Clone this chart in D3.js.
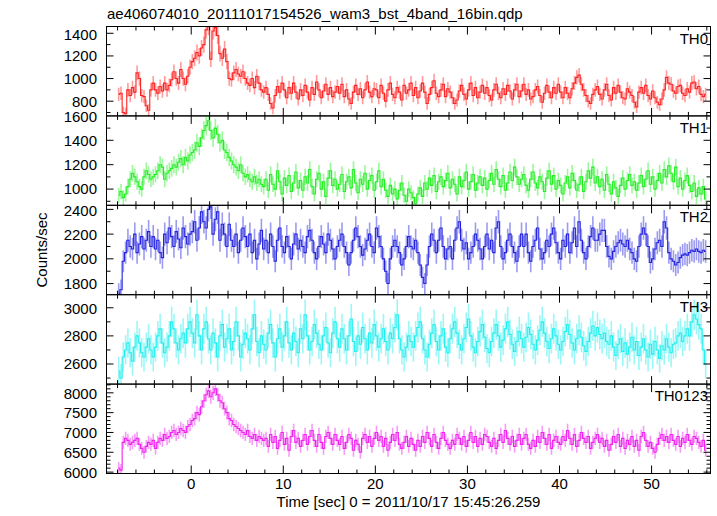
<!DOCTYPE html>
<html><head><meta charset="utf-8">
<script src="https://cdn.jsdelivr.net/npm/d3@7"></script>
<style>
body{margin:0;background:#fff;}
text{font-family:"Liberation Sans",Arial,Helvetica,sans-serif;}
</style></head>
<body><svg id="c" width="717" height="516"></svg>
<script>
// ---- data ----
const title = "ae406074010_20111017154526_wam3_bst_4band_16bin.qdp";
const xLabel = "Time [sec] 0 = 2011/10/17 15:45:26.259";
const yLabel = "Counts/sec";
const panelNames = ["TH0","TH1","TH2","TH3","TH0123"];
const panelColors = ["#ff2020","#22ee22","#2222e0","#22eeee","#f022f0"];
const tStart = -8, binWidth = 0.25;
const xDomain = [-9.2, 56.4];
const xTickValues = [0,10,20,30,40,50];

// 0.25 s bins, 16 per row (4 s)
const TH0 = [
 860,870,700,690, 900,850,920,880, 1050,1000,850,840, 760,720,900,960,
 900,870,930,890, 960,900,940,990, 1060,1000,960,1080, 1000,950,1020,1100,
 1150,1180,1230,1200, 1270,1300,1430,1460, 1170,1420,1450,1380, 1220,1180,1260,1150,
 1000,990,1050,1080, 1040,1020,1060,1000, 960,940,1000,920, 1020,960,900,880,
 920,860,780,740, 850,930,880,960, 900,830,920,870, 960,880,820,900,
 850,940,880,810, 920,860,970,900, 830,890,950,860, 920,840,880,930,
 870,950,840,900, 820,780,880,940, 860,910,830,900, 970,880,840,910,
 900,830,940,870, 800,900,960,860, 830,920,880,810, 940,870,900,960,
 850,920,830,890, 960,880,780,860, 920,980,870,840, 900,950,840,910,
 880,830,780,810, 890,940,860,820, 900,960,850,920, 830,880,940,870,
 920,850,810,900, 950,870,830,910, 860,940,890,820, 900,950,840,890,
 950,860,900,820, 840,900,930,850, 790,870,940,880, 830,920,870,950,
 880,830,920,870, 830,910,960,1010, 1030,950,900,850, 800,780,860,900,
 930,860,820,900, 950,850,810,920, 870,940,880,830, 820,910,880,850,
 790,750,880,920, 870,940,850,820, 890,830,790,770, 820,900,1010,960,
 950,890,870,930, 940,870,850,910, 880,960,970,910, 930,860,840,860];
const TH1 = [
 950,980,930,960, 1020,1080,1130,1100, 1060,1020,1000,1100, 1150,1120,1080,1100,
 1120,1150,1200,1180, 1080,1130,1150,1170, 1200,1180,1220,1250, 1200,1260,1230,1280,
 1300,1320,1380,1350, 1420,1480,1520,1560, 1480,1420,1500,1450, 1380,1400,1320,1300,
 1260,1230,1200,1180, 1150,1200,1130,1100, 1120,1080,1060,1100, 1050,1080,1040,1020,
 1080,990,1120,1040, 1000,1150,1060,960, 1090,1030,1110,980, 1050,1140,1010,1070,
 990,1100,1050,1160, 1020,960,1080,1130, 1000,1060,940,1090, 1150,1030,1080,1000,
 1040,1120,980,1060, 1100,1010,1160,1050, 970,1080,1040,1130, 1000,1070,1110,990,
 1060,1150,1020,1080, 990,940,1030,960, 1000,920,990,1050, 950,900,1000,970,
 930,880,960,1010, 940,1050,1000,1090, 1030,1110,980,1060, 1100,1020,1070,1130,
 1010,1080,1040,960, 1100,1020,1070,1140, 1000,1060,1120,990, 1050,1100,1030,1090,
 1000,1070,1130,1040, 1160,1080,1020,1110, 990,1050,1140,1070, 1180,1100,1040,1080,
 1120,1030,990,1080, 1140,1050,1010,1100, 1060,980,1090,1150, 1040,1110,1000,1070,
 1030,960,1050,1100, 1010,1130,1070,990, 1040,1100,980,1060, 1150,1090,1180,1050,
 1100,1020,1080,990, 1120,1040,960,1060, 1010,940,1030,1090, 1000,1070,1120,1030,
 1060,990,1050,1110, 1020,1080,1150,1040, 1100,1000,1070,1130, 1050,1160,1100,1190,
 1130,1060,1180,1020, 1090,1000,1070,1110, 1030,980,1050,940, 1010,960,1020,920];
const TH2 = [
 1720,1750,1980,2050, 2150,2100,2080,2200, 2050,2120,2180,2080, 2150,2220,2100,2180,
 2080,2150,2050,2010, 2200,2130,2250,2180, 2100,2220,2160,2090, 2250,2180,2120,2200,
 2220,2300,2150,2250, 2380,2300,2250,2400, 2420,2200,2320,2380, 2150,2280,2200,2100,
 2280,2150,2100,2200, 2050,2150,2250,2180, 2100,2200,2050,2150, 2000,2120,2230,2080,
 2150,2050,2200,2100, 1980,2150,2250,2100, 2050,2180,2100,2000, 2120,2200,2080,2150,
 2100,2050,2180,2230, 2150,2050,2000,2100, 2180,2120,2050,2200, 2150,2080,2000,2100,
 2150,2200,2100,2050, 1950,2050,2150,2250, 2180,2100,2030,2080, 2150,2200,2100,2050,
 2250,2180,2100,2000, 1900,1800,2000,2100, 2150,2100,2050,1950, 2000,2100,2180,2100,
 2080,2150,2050,1950, 1850,1800,1950,2100, 2200,2150,2050,2150, 2250,2100,2000,2080,
 2100,2000,2150,2250, 2300,2150,2080,2130, 2000,2050,2100,2200, 2150,2080,2000,2100,
 2200,2080,2150,2050, 2250,2300,2100,2000, 2050,2150,2200,2100, 2050,1980,2100,2200,
 2100,2200,2050,1980, 2100,2150,2250,2080, 2000,2050,2150,2100, 2200,2250,2130,2050,
 2000,2150,2100,2200, 2050,2130,2250,2100, 2300,2150,2050,2000, 2100,2180,2250,2150,
 2150,2200,2230,2230, 2100,2020,2000,2060, 2100,2130,2150,2120, 2100,2150,2080,2050,
 2000,1980,2100,2200, 2250,2200,2100,1970, 2000,2080,2130,2150, 2100,2300,2250,2050,
 2000,1980,1950,1970, 2010,2030,2040,2030, 2050,2070,2060,2080, 2060,2050,2070,2060];
const TH3 = [
 2550,2500,2650,2700, 2750,2680,2620,2720, 2800,2750,2680,2650, 2720,2780,2700,2650,
 2720,2800,2850,2750, 2680,2720,2800,2900, 2850,2750,2700,2780, 2820,2750,2850,2900,
 2820,2750,2950,2800, 2700,2850,2900,2780, 2700,2820,2750,2650, 2800,2880,2720,2780,
 2850,2700,2760,2900, 2800,2650,2740,2820, 2780,2700,2850,2950, 2760,2680,2800,2740,
 2700,2820,2880,2750, 2650,2780,2850,2720, 2800,2900,2750,2700, 2820,2760,2680,2850,
 2780,2950,2800,2700, 2760,2880,2820,2740, 2700,2800,2860,2750, 2680,2820,2900,2780,
 2720,2850,2780,2700, 2800,2920,2760,2690, 2800,2740,2860,2780, 2700,2820,2750,2880,
 2800,2720,2780,2850, 2760,2700,2820,2780, 2860,2950,2780,2700, 2650,2720,2800,2760,
 2720,2800,2860,2900, 2780,2700,2650,2740, 2820,2880,2760,2700, 2800,2850,2720,2680,
 2780,2850,2900,2820, 2740,2700,2780,2860, 2920,2800,2720,2680, 2760,2830,2880,2790,
 2710,2680,2760,2820, 2880,2800,2720,2770, 2850,2900,2810,2740, 2690,2760,2830,2780,
 2720,2790,2860,2810, 2740,2700,2770,2840, 2900,2820,2760,2710, 2780,2850,2800,2740,
 2700,2760,2830,2880, 2810,2750,2700,2780, 2840,2790,2730,2690, 2760,2820,2870,2800,
 2860,2810,2780,2820, 2760,2740,2800,2720, 2660,2740,2780,2690, 2750,2670,2720,2790,
 2700,2760,2660,2720, 2780,2700,2650,2740, 2670,2760,2700,2640, 2730,2700,2780,2720,
 2680,2740,2750,2800, 2820,2760,2800,2850, 2800,2900,2950,2920, 2880,2850,2700,2600];
const TH0123 = [
 6100,6050,6750,6850, 6800,6700,6750,6800, 6850,6700,6600,6500, 6650,6750,6700,6800,
 6600,6750,6850,6800, 6950,6850,6900,7000, 7050,6950,7000,7100, 7050,7000,7150,7200,
 7300,7350,7500,7450, 7650,7800,7950,8050, 7900,8000,8100,7950, 7800,7750,7600,7500,
 7350,7300,7200,7150, 7100,7050,7000,6950, 7050,6900,6850,6950, 6800,6900,6850,6800,
 6850,6650,6950,6750, 6900,6600,6800,7000, 6700,6850,6550,6900, 7050,6750,6850,6650,
 6800,6950,6700,6900, 7050,6800,6650,6950, 6750,6600,6900,7000, 6850,6700,6950,6800,
 6700,6900,6600,6750, 6950,6850,6550,6800, 6700,6500,6850,6950, 6750,6900,6650,6850,
 7000,6800,6900,6650, 6850,6550,6750,6950, 6800,7000,6700,6600, 6750,6900,6650,6850,
 6700,6550,6800,6650, 6900,6750,7000,6850, 6650,6950,6750,6600, 6850,7000,6800,6700,
 6600,6800,6700,6950, 6850,6700,6900,6650, 6800,7000,6750,6900, 6650,6850,6700,6950,
 6900,6750,6650,6850, 6600,6800,6950,6750, 7050,6850,6700,6900, 6650,6800,6950,6700,
 6850,6950,6700,6600, 6800,6650,6900,6750, 7000,6850,6700,6950, 6600,6800,6900,6750,
 6700,6900,6800,7050, 6850,6700,6950,6650, 6800,7000,6850,6750, 6900,6600,6750,6850,
 6950,6750,6850,6650, 6800,6550,6700,6900, 6750,6950,6650,6850, 6600,6800,6700,6900,
 6650,6800,6550,6900, 7000,6800,6650,6750, 6600,6500,6700,6850, 6950,6800,6900,6750,
 6950,6800,6700,6900, 6650,6850,6750,6950, 6800,6700,6900,6850, 6750,6650,6800,6550];
const series = [TH0, TH1, TH2, TH3, TH0123];

const yDomains = [[670,1460],[867,1600],[1710,2433],[2457,3093],[5965,8220]];
const yMajorTicks = [[800,1000,1200,1400],[1000,1200,1400,1600],[1800,2000,2200,2400],[2600,2800,3000],[6000,6500,7000,7500,8000]];
const yMinorStep = [100,100,100,100,100];

// ---- layout ----
const pLeft = 106.5, pRight = 710.5, pTop = 26.5, pBottom = 473.5;
const nP = 5, ph = (pBottom - pTop) / nP;
const svg = d3.select("#c");
const x = d3.scaleLinear().domain(xDomain).range([pLeft, pRight]);
const fontSize = 15;

svg.append("text").attr("x", 107).attr("y", 19).attr("font-size", fontSize).text(title);

series.forEach((vals, p) => {
  const y0 = pTop + p*ph, y1 = y0 + ph;
  const y = d3.scaleLinear().domain(yDomains[p]).range([y1, y0]);
  const g = svg.append("g");
  const clipId = "clip"+p;
  svg.append("clipPath").attr("id", clipId).append("rect")
    .attr("x", pLeft).attr("y", y0).attr("width", pRight-pLeft).attr("height", ph);
  const dg = g.append("g").attr("clip-path", `url(#${clipId})`);
  const col = panelColors[p];
  const bins = vals.map((v,i)=>({t: tStart + binWidth*i, v, e: Math.sqrt(v/binWidth)}));
  dg.selectAll("line.err").data(bins).enter().append("line")
    .attr("x1", d=>x(d.t+binWidth/2)).attr("x2", d=>x(d.t+binWidth/2))
    .attr("y1", d=>y(d.v-d.e)).attr("y2", d=>y(d.v+d.e))
    .attr("stroke", col).attr("stroke-opacity", 0.45).attr("stroke-width", 1.6);
  const line = d3.line().x(d=>x(d.t+binWidth/2)).y(d=>y(d.v)).curve(d3.curveStep);
  dg.append("path").datum(bins).attr("d", line)
    .attr("fill","none").attr("stroke", col).attr("stroke-width", 1.1);

  g.append("rect").attr("x", pLeft).attr("y", y0).attr("width", pRight-pLeft).attr("height", ph)
    .attr("fill","none").attr("stroke","#000").attr("stroke-width",1);

  const minor = d3.range(Math.ceil(yDomains[p][0]/yMinorStep[p])*yMinorStep[p], yDomains[p][1], yMinorStep[p]);
  minor.forEach(v=>{
    const maj = yMajorTicks[p].includes(v);
    const L = maj ? 7 : 4;
    g.append("line").attr("x1", pLeft).attr("x2", pLeft+L).attr("y1", y(v)).attr("y2", y(v)).attr("stroke","#000");
    g.append("line").attr("x1", pRight).attr("x2", pRight-L).attr("y1", y(v)).attr("y2", y(v)).attr("stroke","#000");
  });
  yMajorTicks[p].forEach((v,k)=>{
    const last = k === yMajorTicks[p].length-1;
    g.append("text").attr("x", 97).attr("y", y(v) + (last ? 1 : 0)).attr("dy","0.36em")
      .attr("text-anchor","end").attr("font-size", fontSize).text(v);
  });
  d3.range(-8, 57, 2).forEach(t=>{
    const maj = t % 10 === 0;
    const L = maj ? 8 : 4;
    g.append("line").attr("x1", x(t)).attr("x2", x(t)).attr("y1", y0).attr("y2", y0+L).attr("stroke","#000");
    g.append("line").attr("x1", x(t)).attr("x2", x(t)).attr("y1", y1).attr("y2", y1-L).attr("stroke","#000");
  });
  g.append("text").attr("x", 708).attr("y", y0+17).attr("text-anchor","end")
    .attr("font-size", fontSize).text(panelNames[p]);
});

xTickValues.forEach(t=>{
  svg.append("text").attr("x", x(t)).attr("y", 489).attr("text-anchor","middle")
    .attr("font-size", fontSize).text(t);
});
svg.append("text").attr("x", (pLeft+pRight)/2).attr("y", 507).attr("text-anchor","middle")
  .attr("font-size", fontSize).text(xLabel);
svg.append("text").attr("transform", `translate(47,${(pTop+pBottom)/2}) rotate(-90)`)
  .attr("text-anchor","middle").attr("font-size", fontSize).text(yLabel);
</script></body></html>
